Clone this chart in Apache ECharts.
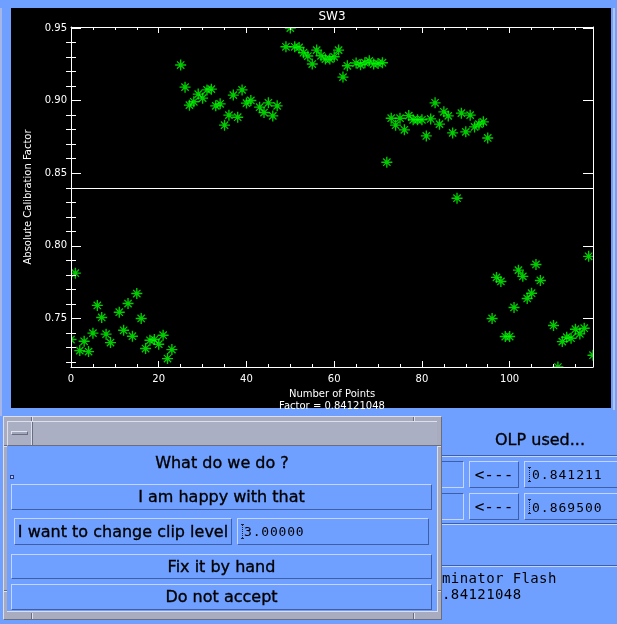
<!DOCTYPE html>
<html>
<head>
<meta charset="utf-8">
<script src="https://cdn.jsdelivr.net/npm/echarts@6/dist/echarts.min.js"></script>
<style>
  html, body { margin: 0; padding: 0; }
  body { width: 617px; height: 624px; background: #70a0ff; position: relative; overflow: hidden;
         font-family: "DejaVu Sans", sans-serif; color: #000; }
  #chart { position: absolute; left: 0; top: 0; width: 617px; height: 624px; z-index: 1; }
  .a { position: absolute; box-sizing: border-box; }
  .raised { background: #70a0ff; border-top: 1px solid #c4d6ff; border-left: 1px solid #c4d6ff;
            border-bottom: 1px solid #3e5ea6; border-right: 1px solid #3e5ea6; }
  .sunken { background: #70a0ff; border-top: 1px solid #3e5ea6; border-left: 1px solid #3e5ea6;
            border-bottom: 1px solid #c4d6ff; border-right: 1px solid #c4d6ff; }
  .lbl { font-size: 16px; text-align: center; white-space: nowrap; -webkit-text-stroke: 0.35px #000; }
  .mono { font-family: "DejaVu Sans Mono", monospace; white-space: nowrap; }
  .hl { position: absolute; height: 1px; }
  .vl { position: absolute; width: 1px; }
  .ibeam { position: absolute; width: 3px; border-top: 1px solid #223; border-bottom: 1px solid #223; box-sizing: border-box; }
  .ibeam::after { content: ""; position: absolute; left: 1px; top: 0; bottom: 0; border-left: 1px dotted #223; }
  #back { z-index: 2; }
  #dialog { z-index: 3; }
</style>
</head>
<body>
<div id="chart"></div>

<!-- control panel behind the dialog -->
<div id="back" class="a" style="left:0;top:0;width:617px;height:624px;pointer-events:none;">
  <div class="vl" style="left:0;top:8px;height:408px;width:2px;background:#a6b6e6;"></div>
  <div class="vl" style="left:613px;top:8px;height:402px;width:2px;background:#b4c2ee;"></div>
  <div class="a lbl" style="left:434px;top:430px;width:20px;height:20px;line-height:20px;text-align:left;">s</div>
  <div class="a lbl" style="left:480px;top:430px;width:120px;height:20px;line-height:20px;">OLP used...</div>
  <div class="hl" style="left:430px;top:455px;width:187px;background:#3e5ea6;"></div>
  <div class="hl" style="left:430px;top:456px;width:187px;background:#c4d6ff;"></div>

  <div class="a sunken" style="left:420px;top:461px;width:44px;height:27px;"></div>
  <div class="a raised mono" style="left:469px;top:461px;width:50px;height:27px;line-height:25px;font-size:16px;text-align:center;">&lt;---</div>
  <div class="a raised" style="left:524px;top:461px;width:100px;height:27px;"></div>
  <div class="ibeam" style="left:528px;top:467px;height:15px;"></div>
  <div class="a mono" style="left:532px;top:466px;font-size:13px;letter-spacing:1px;line-height:17px;">0.841211</div>

  <div class="a sunken" style="left:420px;top:493px;width:44px;height:27px;"></div>
  <div class="a raised mono" style="left:469px;top:493px;width:50px;height:27px;line-height:25px;font-size:16px;text-align:center;">&lt;---</div>
  <div class="a raised" style="left:524px;top:493px;width:100px;height:27px;"></div>
  <div class="ibeam" style="left:528px;top:499px;height:15px;"></div>
  <div class="a mono" style="left:532px;top:499px;font-size:13px;letter-spacing:1px;line-height:17px;">0.869500</div>

  <div class="hl" style="left:430px;top:523px;width:187px;background:#3e5ea6;"></div>
  <div class="hl" style="left:430px;top:524px;width:187px;background:#c4d6ff;"></div>
  <div class="hl" style="left:430px;top:565px;width:187px;background:#3e5ea6;"></div>
  <div class="hl" style="left:430px;top:566px;width:187px;background:#c4d6ff;"></div>

  <div class="a mono" style="left:442px;top:570px;font-size:14px;letter-spacing:0.4px;line-height:17px;">minator Flash</div>
  <div class="a mono" style="left:442px;top:586px;font-size:14px;letter-spacing:0.4px;line-height:17px;">.84121048</div>
</div>

<!-- decision dialog -->
<div id="dialog" class="a" style="left:3px;top:416px;width:439px;height:204px;background:#a8acbe;border-top:1px solid #dde0ea;border-left:1px solid #dde0ea;border-bottom:1px solid #6a6d7e;border-right:1px solid #6a6d7e;">
  <!-- frame handle notches -->
  <div class="vl" style="left:27px;top:0;height:4px;background:#6a6d7e;"></div>
  <div class="vl" style="left:28px;top:0;height:4px;background:#dde0ea;"></div>
  <div class="vl" style="left:409px;top:0;height:4px;background:#6a6d7e;"></div>
  <div class="vl" style="left:410px;top:0;height:4px;background:#dde0ea;"></div>
  <div class="vl" style="left:27px;top:196px;height:6px;background:#6a6d7e;"></div>
  <div class="vl" style="left:28px;top:196px;height:6px;background:#dde0ea;"></div>
  <div class="vl" style="left:409px;top:196px;height:6px;background:#6a6d7e;"></div>
  <div class="vl" style="left:410px;top:196px;height:6px;background:#dde0ea;"></div>
  <div class="hl" style="left:0;top:28px;width:4px;background:#6a6d7e;"></div>
  <div class="hl" style="left:0;top:29px;width:4px;background:#dde0ea;"></div>
  <div class="hl" style="left:0;top:173px;width:4px;background:#6a6d7e;"></div>
  <div class="hl" style="left:0;top:174px;width:4px;background:#dde0ea;"></div>
  <div class="hl" style="left:433px;top:28px;width:4px;background:#6a6d7e;"></div>
  <div class="hl" style="left:433px;top:29px;width:4px;background:#dde0ea;"></div>
  <div class="hl" style="left:433px;top:173px;width:4px;background:#6a6d7e;"></div>
  <div class="hl" style="left:433px;top:174px;width:4px;background:#dde0ea;"></div>

  <!-- title bar -->
  <div class="a" style="left:3px;top:4px;width:430px;height:25px;background:#abafc3;border-top:1px solid #dde0ea;border-left:1px solid #dde0ea;border-bottom:1px solid #6a6d7e;"></div>
  <div class="vl" style="left:27px;top:5px;height:23px;background:#dde0ea;"></div>
  <div class="vl" style="left:28px;top:5px;height:23px;background:#6a6d7e;"></div>
  <div class="a" style="left:7px;top:14px;width:17px;height:4px;background:#a2a6ba;border-top:1px solid #e2e4ee;border-left:1px solid #e2e4ee;border-bottom:1px solid #6a6d7e;border-right:1px solid #6a6d7e;"></div>

  <!-- client area -->
  <div class="a" style="left:3px;top:29px;width:431px;height:166px;background:#70a0ff;border-bottom:1px solid #dde0ea;border-right:1px solid #dde0ea;">
    <div class="a lbl" style="left:0;top:7px;width:430px;height:20px;line-height:20px;">What do we do ?</div>
    <div class="a" style="left:3px;top:29px;width:4px;height:4px;border:1px solid #2a3a70;background:#a8c0ff;"></div>
    <div class="a raised lbl" style="left:4px;top:38px;width:421px;height:26px;line-height:24px;">I am happy with that</div>
    <div class="a raised lbl" style="left:7px;top:72px;width:218px;height:27px;line-height:25px;">I want to change clip level</div>
    <div class="a raised" style="left:230px;top:72px;width:192px;height:27px;"></div>
    <div class="ibeam" style="left:234px;top:78px;height:15px;"></div>
    <div class="a mono" style="left:237px;top:77px;font-size:13px;letter-spacing:0.8px;line-height:17px;">3.00000</div>
    <div class="a raised lbl" style="left:4px;top:108px;width:421px;height:25px;line-height:23px;">Fix it by hand</div>
    <div class="a raised lbl" style="left:4px;top:138px;width:421px;height:26px;line-height:24px;">Do not accept</div>
  </div>
</div>

<script>
// Absolute calibration factor per point (gaps are points that were dropped)
const pointNumbers = [
  0, 1, 2, 3, 4, 5, 6, 7, 8, 9, 11, 12, 13, 14, 15, 16, 17, 18, 19, 20, 21, 22, 23,
  25, 26, 27, 28, 29, 30, 31, 32, 33, 34, 35, 36, 37, 38, 39, 40, 41, 43, 44, 45, 46, 47,
  49, 50, 51, 52, 53, 54, 55, 56, 57, 58, 59, 60, 61, 62, 63, 65, 66, 67, 68, 69, 70, 71,
  72, 73, 74, 75, 76, 77, 78, 79, 80, 81, 82, 83, 84, 85, 86, 87, 88, 89, 90, 91, 92, 93, 94, 95,
  96, 97, 98, 99, 100, 101, 102, 103, 104, 105, 106, 107, 110, 111, 112, 113, 114, 115, 116, 117, 118, 119
];
const calibrationFactors = [
  0.7355, 0.7812, 0.7279, 0.7343, 0.7272, 0.7399, 0.7590, 0.7507, 0.7392, 0.7334, 0.7543, 0.7419,
  0.7603, 0.7378, 0.7672, 0.7500, 0.7293, 0.7350, 0.7355, 0.7323, 0.7385, 0.7224, 0.7286,
  0.9245, 0.9093, 0.8969, 0.8992, 0.9045, 0.9017, 0.9074, 0.9079, 0.8964, 0.8978, 0.8831, 0.8900,
  0.9038, 0.8886, 0.9074, 0.8983, 0.9001, 0.8955, 0.8918, 0.8985, 0.8895, 0.8964,
  0.9371, 0.9500, 0.9371, 0.9366, 0.9330, 0.9307, 0.9252, 0.9348, 0.9309, 0.9286, 0.9286, 0.9302,
  0.9348, 0.9162, 0.9240, 0.9259, 0.9247, 0.9261, 0.9274, 0.9252, 0.9256, 0.9261,
  0.8576, 0.8879, 0.8831, 0.8879, 0.8799, 0.8897, 0.8868, 0.8868, 0.8868, 0.8757, 0.8874, 0.8985,
  0.8838, 0.8923, 0.8895, 0.8778, 0.8328, 0.8914, 0.8785, 0.8900, 0.8819, 0.8838, 0.8854, 0.8743,
  0.7500, 0.7783, 0.7755, 0.7376, 0.7376, 0.7576, 0.7833, 0.7790, 0.7638, 0.7674, 0.7872, 0.7762,
  0.7452, 0.7166, 0.7341, 0.7371, 0.7364, 0.7426, 0.7394, 0.7433, 0.7928, 0.7247
];
const adoptedFactor = 0.84121048;

const xRange = [0, 119];
const yRange = [0.7166, 0.9507];
const xTickLabels = ['0', '20', '40', '60', '80', '100'];
const xMinorTicks = [5, 10, 15, 25, 30, 35, 45, 50, 55, 65, 70, 75, 85, 90, 95, 105, 110, 115];
const yTickLabels = ['0.75', '0.80', '0.85', '0.90', '0.95'];
const yMinorTicks = [0.72, 0.73, 0.74, 0.76, 0.77, 0.78, 0.79, 0.81, 0.82, 0.83, 0.84,
                     0.86, 0.87, 0.88, 0.89, 0.91, 0.92, 0.93, 0.94];

const xMajor = xTickLabels.map(Number);
const yMajor = yTickLabels.map(Number);
const points = pointNumbers.map((n, i) => [n, calibrationFactors[i]]);

// asterisk plotting symbol
const asterisk = 'path://M0 5.25H12V6.75H0Z M5.25 0H6.75V12H5.25Z M1.5 2.5L2.5 1.5L10.5 9.5L9.5 10.5Z M9.5 1.5L10.5 2.5L2.5 10.5L1.5 9.5Z M4 4H8V8H4Z';

const WIN = { x: 11, y: 8, w: 600, h: 400 };
const PLOT = { left: 71, top: 27, width: 522, height: 340 };
const white = '#ffffff';
const font = '"DejaVu Sans", sans-serif';

function labelFor(list, v) {
  const s = list.find(t => Math.abs(Number(t) - v) < 1e-9);
  return s === undefined ? '' : s;
}

function xAxisDef(grid, pos, ticks, len, opts) {
  return Object.assign({
    type: 'value', gridIndex: grid, position: pos, min: xRange[0], max: xRange[1], z: 10,
    axisLine: { show: true, onZero: false, lineStyle: { color: white, width: 1 } },
    axisTick: { show: true, inside: true, length: len, customValues: ticks, lineStyle: { color: white, width: 1 } },
    axisLabel: { show: false },
    splitLine: { show: false }
  }, opts || {});
}
function yAxisDef(grid, pos, ticks, len, opts) {
  return Object.assign({
    type: 'value', gridIndex: grid, position: pos, min: yRange[0], max: yRange[1], z: 10,
    axisLine: { show: true, onZero: false, lineStyle: { color: white, width: 1 } },
    axisTick: { show: true, inside: true, length: len, customValues: ticks, lineStyle: { color: white, width: 1 } },
    axisLabel: { show: false },
    splitLine: { show: false }
  }, opts || {});
}

const chart = echarts.init(document.getElementById('chart'), null, { renderer: 'canvas' });
chart.setOption({
  animation: false,
  backgroundColor: 'transparent',
  title: {
    text: 'SW3', left: 332, top: 11, textAlign: 'center', padding: 0, z: 10,
    textStyle: { color: white, fontFamily: font, fontSize: 12, fontWeight: 'normal' }
  },
  grid: [
    Object.assign({ containLabel: false }, PLOT),
    Object.assign({ containLabel: false }, PLOT)
  ],
  xAxis: [
    xAxisDef(0, 'bottom', xMajor, 6, {
      axisLabel: { show: true, customValues: xMajor, margin: 7, color: white, fontFamily: font, fontSize: 10,
                   formatter: v => labelFor(xTickLabels, v) },
      name: 'Number of Points\nFactor = ' + adoptedFactor.toFixed(8),
      nameLocation: 'middle', nameGap: 20,
      nameTextStyle: { color: white, fontFamily: font, fontSize: 10, lineHeight: 11.5, verticalAlign: 'top' }
    }),
    xAxisDef(0, 'top', xMajor, 6),
    xAxisDef(1, 'bottom', xMinorTicks, 3, { axisLine: { show: false } }),
    xAxisDef(1, 'top', xMinorTicks, 3, { axisLine: { show: false } })
  ],
  yAxis: [
    yAxisDef(0, 'left', yMajor, 10, {
      axisLabel: { show: true, customValues: yMajor, margin: 4, color: white, fontFamily: font, fontSize: 10,
                   formatter: v => labelFor(yTickLabels, v) },
      name: 'Absolute Calibration Factor', nameLocation: 'middle', nameGap: 31,
      nameTextStyle: { color: white, fontFamily: font, fontSize: 10 }
    }),
    yAxisDef(0, 'right', yMajor, 10),
    yAxisDef(1, 'left', yMinorTicks, 5, { axisLine: { show: false } }),
    yAxisDef(1, 'right', yMinorTicks, 5, { axisLine: { show: false } })
  ],
  graphic: [
    // plot window
    { type: 'rect', z: -1, silent: true, shape: { x: WIN.x, y: WIN.y, width: WIN.w, height: WIN.h }, style: { fill: '#000' } },
    // masks that trim symbols overhanging the plot box
    { type: 'rect', z: 5, silent: true, shape: { x: WIN.x, y: WIN.y, width: WIN.w, height: PLOT.top - WIN.y }, style: { fill: '#000' } },
    { type: 'rect', z: 5, silent: true, shape: { x: WIN.x, y: PLOT.top + PLOT.height, width: WIN.w, height: WIN.y + WIN.h - PLOT.top - PLOT.height }, style: { fill: '#000' } },
    { type: 'rect', z: 5, silent: true, shape: { x: WIN.x, y: WIN.y, width: PLOT.left - WIN.x, height: WIN.h }, style: { fill: '#000' } },
    { type: 'rect', z: 5, silent: true, shape: { x: PLOT.left + PLOT.width, y: WIN.y, width: WIN.x + WIN.w - PLOT.left - PLOT.width, height: WIN.h }, style: { fill: '#000' } }
  ],
  series: [{
    type: 'scatter',
    xAxisIndex: 0, yAxisIndex: 0,
    data: points,
    clip: false,
    symbol: asterisk,
    symbolSize: 11,
    itemStyle: { color: '#00ff00' },
    silent: true,
    markLine: {
      silent: true, symbol: ['none', 'none'], animation: false,
      label: { show: false },
      lineStyle: { color: white, width: 1, type: 'solid' },
      data: [{ yAxis: adoptedFactor }]
    }
  }]
});
</script>
</body>
</html>
